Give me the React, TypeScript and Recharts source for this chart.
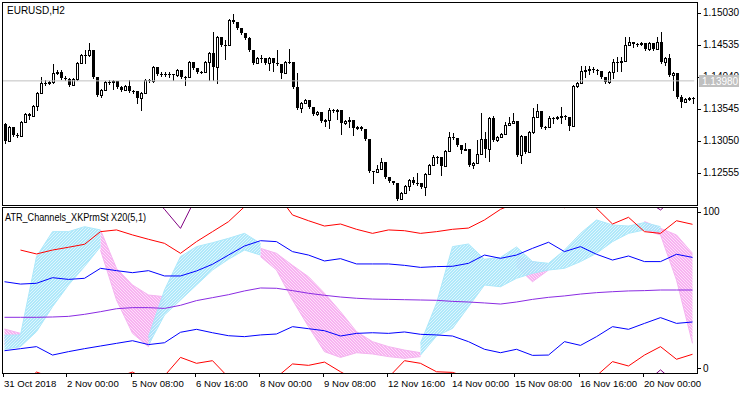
import React from "react";
import { ComposedChart, Bar, Line, Area, XAxis, YAxis, ReferenceLine } from "recharts";

const FONT = '"Liberation Sans", Arial, sans-serif';

// EURUSD H2 candles
const opens = [
  1.1331, 1.1305, 1.1327, 1.1314, 1.1313, 1.1334, 1.1347, 1.1344, 1.1359, 1.1379,
  1.1395, 1.1395, 1.1396, 1.1410, 1.1412, 1.1402, 1.1401, 1.1392, 1.1401, 1.1426,
  1.1438, 1.1438, 1.1446, 1.1404, 1.1376, 1.1384, 1.1396, 1.1396, 1.1398, 1.1389,
  1.1384, 1.1390, 1.1382, 1.1382, 1.1372, 1.1379, 1.1399, 1.1398, 1.1419, 1.1409,
  1.1409, 1.1409, 1.1409, 1.1407, 1.1415, 1.1404, 1.1404, 1.1427, 1.1418, 1.1412,
  1.1412, 1.1427, 1.1441, 1.1419, 1.1466, 1.1453, 1.1453, 1.1492, 1.1489, 1.1480,
  1.1472, 1.1464, 1.1446, 1.1426, 1.1433, 1.1433, 1.1426, 1.1433, 1.1426, 1.1424,
  1.1410, 1.1427, 1.1427, 1.1389, 1.1356, 1.1364, 1.1368, 1.1358, 1.1347, 1.1350,
  1.1336, 1.1337, 1.1353, 1.1351, 1.1353, 1.1333, 1.1336, 1.1337, 1.1325, 1.1327,
  1.1324, 1.1308, 1.1259, 1.1257, 1.1262, 1.1272, 1.1249, 1.1243, 1.1240, 1.1215,
  1.1225, 1.1235, 1.1245, 1.1240, 1.1240, 1.1234, 1.1254, 1.1268, 1.1280, 1.1280,
  1.1266, 1.1290, 1.1311, 1.1310, 1.1299, 1.1291, 1.1293, 1.1268, 1.1271, 1.1285,
  1.1308, 1.1293, 1.1341, 1.1307, 1.1311, 1.1316, 1.1330, 1.1333, 1.1336, 1.1283,
  1.1313, 1.1288, 1.1319, 1.1342, 1.1351, 1.1327, 1.1327, 1.1341, 1.1341, 1.1342,
  1.1344, 1.1342, 1.1328, 1.1390, 1.1395, 1.1413, 1.1415, 1.1416, 1.1415, 1.1413,
  1.1404, 1.1396, 1.1412, 1.1427, 1.1427, 1.1429, 1.1453, 1.1458, 1.1455, 1.1455,
  1.1457, 1.1447, 1.1457, 1.1447, 1.1458, 1.1427, 1.1433, 1.1407, 1.1410, 1.1373,
  1.1365, 1.1370, 1.1372,
];
const highs = [
  1.1333, 1.1328, 1.1327, 1.1317, 1.1336, 1.1348, 1.1348, 1.1361, 1.1381, 1.1404,
  1.1399, 1.1398, 1.1424, 1.1415, 1.1415, 1.1406, 1.1402, 1.1402, 1.1427, 1.1440,
  1.1446, 1.1457, 1.1446, 1.1404, 1.1385, 1.1398, 1.1399, 1.1399, 1.1398, 1.1390,
  1.1392, 1.1399, 1.1384, 1.1382, 1.1381, 1.1401, 1.1401, 1.1421, 1.1419, 1.1412,
  1.1412, 1.1412, 1.1409, 1.1416, 1.1415, 1.1406, 1.1429, 1.1427, 1.1418, 1.1413,
  1.1429, 1.1443, 1.1474, 1.1467, 1.1466, 1.1461, 1.1494, 1.1501, 1.1489, 1.1480,
  1.1472, 1.1466, 1.1446, 1.1435, 1.1438, 1.1433, 1.1435, 1.1433, 1.1446, 1.1424,
  1.1429, 1.1447, 1.1427, 1.1410, 1.1365, 1.1370, 1.1368, 1.1358, 1.1351, 1.1350,
  1.1339, 1.1356, 1.1355, 1.1355, 1.1353, 1.1337, 1.1342, 1.1337, 1.1328, 1.1328,
  1.1324, 1.1308, 1.1259, 1.1268, 1.1279, 1.1272, 1.1249, 1.1243, 1.1240, 1.1226,
  1.1237, 1.1246, 1.1249, 1.1255, 1.1240, 1.1255, 1.1269, 1.1283, 1.1282, 1.1280,
  1.1291, 1.1319, 1.1317, 1.1310, 1.1299, 1.1302, 1.1293, 1.1272, 1.1307, 1.1348,
  1.1319, 1.1342, 1.1344, 1.1313, 1.1317, 1.1334, 1.1342, 1.1348, 1.1336, 1.1314,
  1.1313, 1.1320, 1.1356, 1.1362, 1.1351, 1.1328, 1.1344, 1.1342, 1.1344, 1.1358,
  1.1345, 1.1342, 1.1392, 1.1396, 1.1421, 1.1421, 1.1421, 1.1419, 1.1416, 1.1413,
  1.1404, 1.1413, 1.1432, 1.1435, 1.1435, 1.1466, 1.1466, 1.1458, 1.1457, 1.1458,
  1.1457, 1.1458, 1.1457, 1.1466, 1.1474, 1.1435, 1.1440, 1.1412, 1.1410, 1.1376,
  1.1372, 1.1373, 1.1373,
];
const lows = [
  1.1302, 1.1305, 1.1313, 1.1311, 1.1313, 1.1334, 1.1339, 1.1344, 1.1353, 1.1379,
  1.1392, 1.1393, 1.1395, 1.1409, 1.1401, 1.1399, 1.1390, 1.1392, 1.1399, 1.1426,
  1.1426, 1.1436, 1.1402, 1.1375, 1.1373, 1.1384, 1.1393, 1.1385, 1.1387, 1.1382,
  1.1384, 1.1381, 1.1379, 1.1364, 1.1353, 1.1379, 1.1396, 1.1396, 1.1407, 1.1406,
  1.1406, 1.1404, 1.1399, 1.1406, 1.1402, 1.1392, 1.1404, 1.1416, 1.1410, 1.1410,
  1.1412, 1.1399, 1.1399, 1.1395, 1.1452, 1.1432, 1.1453, 1.1488, 1.1478, 1.1471,
  1.1463, 1.1444, 1.1424, 1.1426, 1.1427, 1.1424, 1.1415, 1.1413, 1.1423, 1.1402,
  1.1410, 1.1426, 1.1387, 1.1355, 1.1350, 1.1364, 1.1356, 1.1345, 1.1345, 1.1334,
  1.1328, 1.1325, 1.1350, 1.1339, 1.1316, 1.1331, 1.1327, 1.1314, 1.1324, 1.1322,
  1.1307, 1.1257, 1.1240, 1.1257, 1.1262, 1.1248, 1.1242, 1.1238, 1.1214, 1.1217,
  1.1225, 1.1229, 1.1238, 1.1237, 1.1232, 1.1221, 1.1254, 1.1268, 1.1271, 1.1252,
  1.1266, 1.1290, 1.1308, 1.1297, 1.1286, 1.1291, 1.1266, 1.1263, 1.1271, 1.1285,
  1.1280, 1.1274, 1.1305, 1.1305, 1.1311, 1.1316, 1.1330, 1.1333, 1.1282, 1.1271,
  1.1286, 1.1288, 1.1317, 1.1342, 1.1325, 1.1324, 1.1327, 1.1333, 1.1339, 1.1333,
  1.1339, 1.1322, 1.1328, 1.1389, 1.1395, 1.1404, 1.1409, 1.1412, 1.1409, 1.1402,
  1.1395, 1.1395, 1.1402, 1.1413, 1.1413, 1.1429, 1.1453, 1.1450, 1.1452, 1.1453,
  1.1446, 1.1446, 1.1446, 1.1447, 1.1426, 1.1423, 1.1406, 1.1384, 1.1372, 1.1358,
  1.1365, 1.1368, 1.1364,
];
const closes = [
  1.1305, 1.1327, 1.1314, 1.1313, 1.1334, 1.1347, 1.1344, 1.1359, 1.1379, 1.1395,
  1.1395, 1.1396, 1.1410, 1.1412, 1.1402, 1.1401, 1.1392, 1.1401, 1.1426, 1.1438,
  1.1438, 1.1446, 1.1404, 1.1376, 1.1384, 1.1396, 1.1396, 1.1398, 1.1389, 1.1384,
  1.1390, 1.1382, 1.1382, 1.1372, 1.1379, 1.1399, 1.1398, 1.1419, 1.1409, 1.1409,
  1.1409, 1.1409, 1.1407, 1.1415, 1.1404, 1.1404, 1.1427, 1.1418, 1.1412, 1.1412,
  1.1427, 1.1441, 1.1419, 1.1466, 1.1453, 1.1453, 1.1492, 1.1489, 1.1480, 1.1472,
  1.1464, 1.1446, 1.1426, 1.1433, 1.1433, 1.1426, 1.1433, 1.1426, 1.1424, 1.1410,
  1.1427, 1.1427, 1.1389, 1.1356, 1.1364, 1.1368, 1.1358, 1.1347, 1.1350, 1.1336,
  1.1337, 1.1353, 1.1351, 1.1353, 1.1333, 1.1336, 1.1337, 1.1325, 1.1327, 1.1324,
  1.1308, 1.1259, 1.1257, 1.1262, 1.1272, 1.1249, 1.1243, 1.1240, 1.1215, 1.1225,
  1.1235, 1.1245, 1.1240, 1.1240, 1.1234, 1.1254, 1.1268, 1.1280, 1.1280, 1.1266,
  1.1290, 1.1311, 1.1310, 1.1299, 1.1291, 1.1293, 1.1268, 1.1271, 1.1285, 1.1308,
  1.1293, 1.1341, 1.1307, 1.1311, 1.1316, 1.1330, 1.1333, 1.1336, 1.1283, 1.1313,
  1.1288, 1.1319, 1.1342, 1.1351, 1.1327, 1.1327, 1.1341, 1.1341, 1.1342, 1.1344,
  1.1342, 1.1328, 1.1390, 1.1395, 1.1413, 1.1415, 1.1416, 1.1415, 1.1413, 1.1404,
  1.1396, 1.1412, 1.1427, 1.1427, 1.1429, 1.1453, 1.1458, 1.1455, 1.1455, 1.1457,
  1.1447, 1.1457, 1.1447, 1.1458, 1.1427, 1.1433, 1.1407, 1.1410, 1.1373, 1.1365,
  1.1370, 1.1372, 1.1372,
];

const dateLabels = [
  "31 Oct 2018", "2 Nov 00:00", "5 Nov 08:00", "6 Nov 16:00", "8 Nov 00:00", "9 Nov 08:00",
  "12 Nov 16:00", "14 Nov 00:00", "15 Nov 08:00", "16 Nov 16:00", "20 Nov 00:00",
];
const dateTickBars = [0, 16, 32, 48, 64, 80, 96, 112, 128, 144, 160];
const priceTicks = [1.1503, 1.14535, 1.1404, 1.13545, 1.1305, 1.12555];
const lastPrice = 1.1398;
const indicatorTicks = [0, 100];

// ATR_Channels_XKPrmSt, read every 4th bar
const indicatorBars = [
  0, 4, 8, 12, 16, 20, 24, 28, 32, 36, 40, 44, 48, 52, 56, 60, 64, 68, 72, 76, 80, 84,
  88, 92, 96, 100, 104, 108, 112, 116, 120, 124, 128, 132, 136, 140, 144, 148, 152, 156, 160, 164, 168, 172,
];
const upperRed = [
  null, 75.6, 73.1, 75.6, 77.4, 79.3, 87.4, 88.5, 85.3, 82.5, 79.9, 73.5, 81.0, 87.4, 93.8, 103.4,
  115, 112, 98.1, 94.4, 91.0, 92.3, 88.9, 86.3, 88.5, 88.0, 86.3, 87.4, 88.9, 89.7, 94.9, 101.7,
  106, 112, 115, 102.6, 110, 102.4, 92.3, 96.6, 87.4, 86.3, 94.4, 92.1,
];
const upperBlue = [
  55.3, 53.8, 54.3, 57.9, 56.8, 57.5, 63.9, 62.4, 61.1, 62.4, 59.0, 59.0, 62.2, 66.5, 72.4, 78.2,
  81.6, 81.0, 74.6, 72.4, 68.6, 70.1, 66.7, 66.7, 66.7, 65.8, 64.5, 65.0, 65.2, 67.1, 72.4, 70.3,
  72.4, 76.7, 80.6, 74.6, 77.8, 72.9, 69.2, 71.8, 68.2, 68.2, 72.9, 70.9,
];
const middleLine = [
  32.5, 32.5, 32.5, 32.7, 33.1, 34.4, 36.1, 38.0, 38.7, 38.7, 38.2, 40.2, 43.2, 45.1, 47.0, 49.4,
  51.3, 51.1, 49.6, 47.9, 46.6, 45.5, 44.7, 44.2, 44.0, 43.8, 43.6, 43.4, 42.7, 42.3, 41.7, 41.0,
  42.3, 44.0, 45.3, 46.2, 47.4, 48.3, 48.9, 49.4, 49.6, 50.0, 50.0, 50.0,
];
const lowerBlue = [
  11.1, 12.4, 13.7, 8.3, 10.5, 12.4, 14.1, 15.8, 17.5, 15.0, 16.2, 22.9, 24.8, 22.6, 20.7, 20.1,
  21.2, 21.8, 26.5, 25.2, 23.9, 20.5, 22.2, 22.6, 22.2, 23.1, 21.6, 21.2, 20.5, 16.9, 12.0, 9.8,
  12.0, 8.1, 8.3, 16.9, 14.5, 20.1, 26.5, 24.8, 28.6, 32.3, 28.6, 29.5,
];
const lowerRed = [
  -10, -12, -2.6, -6, -10, -12, -10, -6, -2.6, -8, -5, 6.8, 3.0, 4.7, -6, -10,
  -10, -6, 2.6, 1.7, 3.8, -2.4, -8, -10, -6, 4.7, 3.0, -2.4, -2.8, -6, -10, -12,
  -12, -14, -14, -12, -10, -5, 4.1, 1.3, 8.3, 13.7, 5.6, 8.8,
];
const upperPurple = [
  115, 115, 115, 115, 115, 115, 115, 115, 115, 112, 101.7, 89.5, 110, 115, 115, 115,
  115, 115, 115, 115, 115, 115, 115, 115, 115, 115, 115, 115, 115, 115, 115, 115,
  115, 115, 115, 115, 115, 115, 115, 115, 108, 101.3, 110, 115,
];
const lowerPurple = [
  -20, -20, -20, -20, -20, -20, -20, -20, -20, -20, -20, -20, -20, -20, -20, -20,
  -20, -20, -20, -20, -20, -20, -20, -20, -20, -20, -20, -20, -20, -20, -20, -20,
  -20, -20, -20, -20, -20, -20, -20, -20, -10, -1.2, -10, -20,
];
const cyanLow = [
  12, 13.7, 23.3, 39.3, 53.2, 65.0, 77.8, null, null, 14.7, 34.0, 43.6, 53.2, 62.8, 69.7, 75.6,
  72.4, null, null, null, null, null, null, null, null, null, 8.3, 20.5, 25.4, 39.3, 53.2, 52.1,
  57.5, 60.7, 62.8, 63.9, 68.2, 73.5, 81.0, 86.3, 88.5, 87.4, null, null,
];
const cyanHigh = [
  21, 21.2, 71.4, 87.4, 87.4, 90.6, 88.5, null, null, 20, 50.0, 71.4, 77.8, 80.3, 83.1, 86.3,
  79.9, null, null, null, null, null, null, null, null, null, 15.8, 41.5, 77.8, 79.5, 69.7, 70.9,
  77.6, 68.2, 67.1, 75.6, 86.3, 94.9, 91.7, 91.0, 93.2, 90.6, null, null,
];
const pinkLow = [
  15, 17.9, null, null, null, null, 75.6, 43.6, 22.2, 13.7, 41.5, null, null, null, null, null,
  71.4, 62.8, 43.6, 26.5, 10.5, 6.8, 9.8, 9.0, 7.3, 6.2, 7.3, null, null, null, null, null,
  65.0, 55.3, 62.8, null, null, null, null, null, 88.5, 85.3, 56.4, 15.8,
];
const pinkHigh = [
  25, 22.2, null, null, null, null, 88.5, 63.9, 53.2, 46.8, 45.7, null, null, null, null, null,
  76.7, 73.5, 65.8, 58.5, 47.9, 36.1, 23.3, 16.9, 13.7, 11.5, 9.8, null, null, null, null, null,
  71.4, 68.2, 66.0, null, null, null, null, null, 93.9, 89.5, 85.3, 73.5,
];

const candleData = closes.map((close, i) => {
  const open = opens[i];
  const high = Math.max(highs[i], open, close);
  const low = Math.min(lows[i], open, close);
  return { i, open, high, low, close, range: [low, high] };
});

const indicatorData = indicatorBars.map((bar, k) => ({
  bar,
  upperRed: upperRed[k],
  upperBlue: upperBlue[k],
  middle: middleLine[k],
  lowerBlue: lowerBlue[k],
  lowerRed: lowerRed[k],
  upperPurple: upperPurple[k],
  lowerPurple: lowerPurple[k],
  cyan: [cyanLow[k], cyanHigh[k]],
  pink: [pinkLow[k], pinkHigh[k]],
}));

const Candle = (props: any) => {
  const { x, y, width, height, payload } = props;
  const { open, close, high, low } = payload;
  const k = height / (high - low || 1);
  const cx = Math.floor(x + width / 2) + 0.5;
  const yOf = (p: number) => y + (high - p) * k;
  const top = Math.round(yOf(Math.max(open, close)));
  const bot = Math.round(yOf(Math.min(open, close)));
  const up = close > open;
  return (
    <g>
      <line x1={cx} x2={cx} y1={Math.round(y)} y2={Math.round(y + height) + 1} stroke="#000" />
      {up ? (
        <rect x={cx - 1} y={top + 0.5} width={2} height={Math.max(bot - top, 1)} fill="#fff" stroke="#000" />
      ) : (
        <rect x={cx - 1.5} y={top} width={3} height={Math.max(bot - top, 1)} fill="#000" />
      )}
    </g>
  );
};

const PriceTick = ({ y, payload }: any) => {
  const v = payload.value;
  const yy = Math.round(y) + 0.5;
  if (v === lastPrice) {
    return (
      <g>
        <rect x={699} y={Math.round(y) - 6} width={40} height={12} fill="#c0c0c0" />
        <text x={702} y={y + 4} fill="#fff" fontSize={10} fontFamily={FONT}>{v.toFixed(5)}</text>
      </g>
    );
  }
  return (
    <g>
      <line x1={697} x2={701} y1={yy} y2={yy} stroke="#000" />
      <text x={703} y={y + 3.5} fill="#000" fontSize={10} fontFamily={FONT}>{v.toFixed(5)}</text>
    </g>
  );
};

const LevelTick = ({ y, payload }: any) => {
  const yy = Math.round(y) + 0.5;
  return (
    <g>
      <line x1={697} x2={701} y1={yy} y2={yy} stroke="#000" />
      <text x={703} y={y + 3.5} fill="#000" fontSize={10} fontFamily={FONT}>{payload.value}</text>
    </g>
  );
};

const DateTick = ({ x, payload }: any) => {
  const k = dateTickBars.indexOf(payload.value);
  const tx = Math.round(x - 2) + 0.5;
  return (
    <g>
      <line x1={tx} x2={tx} y1={167} y2={171} stroke="#000" />
      <text x={tx + 0.5} y={180.5} fill="#000" fontSize={9.6} fontFamily={FONT}>{dateLabels[k]}</text>
    </g>
  );
};

export default function App() {
  return (
    <div style={{ position: "fixed", left: 0, top: 0, width: 750, height: 394, background: "#fff", overflow: "hidden" }}>
      <svg width={0} height={0} style={{ position: "absolute" }}>
        <defs>
          <pattern id="cyanFan" width={3} height={3} patternUnits="userSpaceOnUse">
            <rect width={3} height={3} fill="#a6e6fa" />
            <path d="M0,3 L3,0" stroke="#ffffff" strokeWidth={0.8} strokeOpacity={0.75} />
          </pattern>
          <pattern id="pinkFan" width={3} height={3} patternUnits="userSpaceOnUse">
            <rect width={3} height={3} fill="#f7aaf0" />
            <path d="M0,0 L3,3" stroke="#ffffff" strokeWidth={0.8} strokeOpacity={0.75} />
          </pattern>
        </defs>
      </svg>
      <div style={{ position: "absolute", left: 0, top: 0 }}>
        <ComposedChart width={750} height={206} data={candleData} margin={{ top: 2, right: 0, bottom: 1, left: 2.5 }}>
          <XAxis dataKey="i" type="category" hide />
          <YAxis
            orientation="right"
            width={55.5}
            type="number"
            domain={[1.1206, 1.152]}
            allowDataOverflow
            ticks={[...priceTicks, lastPrice]}
            interval={0}
            axisLine={false}
            tickLine={false}
            tick={<PriceTick />}
          />
          <ReferenceLine y={lastPrice} stroke="#c0c0c0" ifOverflow="hidden" />
          <Bar dataKey="range" barSize={3} shape={<Candle />} isAnimationActive={false} />
        </ComposedChart>
      </div>
      <div style={{ position: "absolute", left: 0, top: 206 }}>
        <ComposedChart width={750} height={188} data={indicatorData} margin={{ top: 1, right: 0, bottom: 0, left: 2.5 }}>
          <XAxis
            dataKey="bar"
            type="number"
            domain={[-0.5, 172.5]}
            allowDataOverflow
            ticks={dateTickBars}
            interval={0}
            height={21}
            axisLine={false}
            tickLine={false}
            tick={<DateTick />}
          />
          <YAxis
            orientation="right"
            width={55.5}
            type="number"
            domain={[-3.2, 103.2]}
            allowDataOverflow
            ticks={indicatorTicks}
            interval={0}
            axisLine={false}
            tickLine={false}
            tick={<LevelTick />}
          />
          <Area dataKey="pink" type="linear" stroke="#f4b4f0" strokeWidth={1} fill="url(#pinkFan)" fillOpacity={0.9} isAnimationActive={false} />
          <Area dataKey="cyan" type="linear" stroke="#ade8fa" strokeWidth={1} fill="url(#cyanFan)" fillOpacity={0.9} isAnimationActive={false} />
          <Line dataKey="upperPurple" type="linear" stroke="#800080" dot={false} isAnimationActive={false} />
          <Line dataKey="lowerPurple" type="linear" stroke="#800080" dot={false} isAnimationActive={false} />
          <Line dataKey="upperRed" type="linear" stroke="#ff0000" dot={false} isAnimationActive={false} />
          <Line dataKey="lowerRed" type="linear" stroke="#ff0000" dot={false} isAnimationActive={false} />
          <Line dataKey="upperBlue" type="linear" stroke="#0000ff" dot={false} isAnimationActive={false} />
          <Line dataKey="lowerBlue" type="linear" stroke="#0000ff" dot={false} isAnimationActive={false} />
          <Line dataKey="middle" type="linear" stroke="#8a2be2" dot={false} isAnimationActive={false} />
        </ComposedChart>
      </div>
      <svg width={750} height={394} style={{ position: "absolute", left: 0, top: 0, pointerEvents: "none" }}>
        <rect x={2.5} y={2.5} width={695} height={203} fill="none" stroke="#000" />
        <rect x={2.5} y={207.5} width={695} height={166} fill="none" stroke="#000" />
        <text x={7} y={13.5} fontSize={10} fontFamily={FONT} fill="#000">EURUSD,H2</text>
        <text x={5} y={220.5} fontSize={10} fontFamily={FONT} fill="#000" textLength={141} lengthAdjust="spacingAndGlyphs">ATR_Channels_XKPrmSt X20(5,1)</text>
      </svg>
    </div>
  );
}
